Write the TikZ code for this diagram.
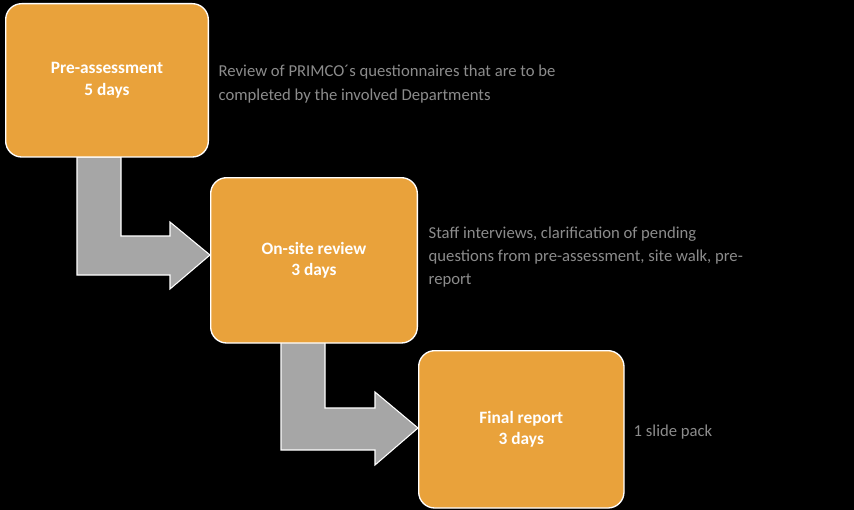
\documentclass[tikz,border=0pt]{standalone}
\usepackage{fontspec}
\setmainfont{Carlito}
\usetikzlibrary{positioning, calc}
\definecolor{stageorange}{HTML}{E9A23B}
\definecolor{notegray}{HTML}{8C8C8C}
\definecolor{arrowgray}{HTML}{A6A6A6}
\tikzstyle{stage} = [rectangle, rounded corners=12pt, draw=white, line width=1pt, fill=stageorange, text=white, font=\fontsize{13}{16}\selectfont\bfseries, align=center, anchor=north west]
\tikzstyle{note} = [text=notegray, font=\fontsize{12.5}{17.5}\selectfont, align=left, anchor=west]
\tikzstyle{flow} = [fill=arrowgray, draw=white, line width=0.8pt]

\begin{document}
\begin{tikzpicture}[x=0.75pt, y=-0.75pt]
        \fill[black] (0,0) rectangle (854,510);
        % flow arrows
        \draw [flow] (77,157) -- (121,157) -- (121,236) -- (170,236) -- (170,222) -- (210,255) -- (170,289) -- (170,275) -- (77,275) -- cycle;
        \draw [flow] (281,342) -- (325,342) -- (325,408) -- (375,408) -- (375,392) -- (418,428) -- (375,465) -- (375,450) -- (281,450) -- cycle;
        % stages
        \node (pre) [stage, minimum width=152pt, minimum height=115pt] at (5,3) {Pre-assessment\\5 days};
        \node (onsite) [stage, minimum width=155pt, minimum height=124pt] at (210,177) {On-site review\\3 days};
        \node (final) [stage, minimum width=154pt, minimum height=118pt] at (418,350) {Final report\\3 days};
        % notes
        \node (prenote) [note] at (214,84) {Review of PRIMCO´s questionnaires that are to be\\completed by the involved Departments};
        \node (onsitenote) [note] at (424,257) {Staff interviews, clarification of pending\\questions from pre-assessment, site walk, pre-\\report};
        \node (finalnote) [note] at (629,432) {1 slide pack};
\end{tikzpicture}
\end{document}
